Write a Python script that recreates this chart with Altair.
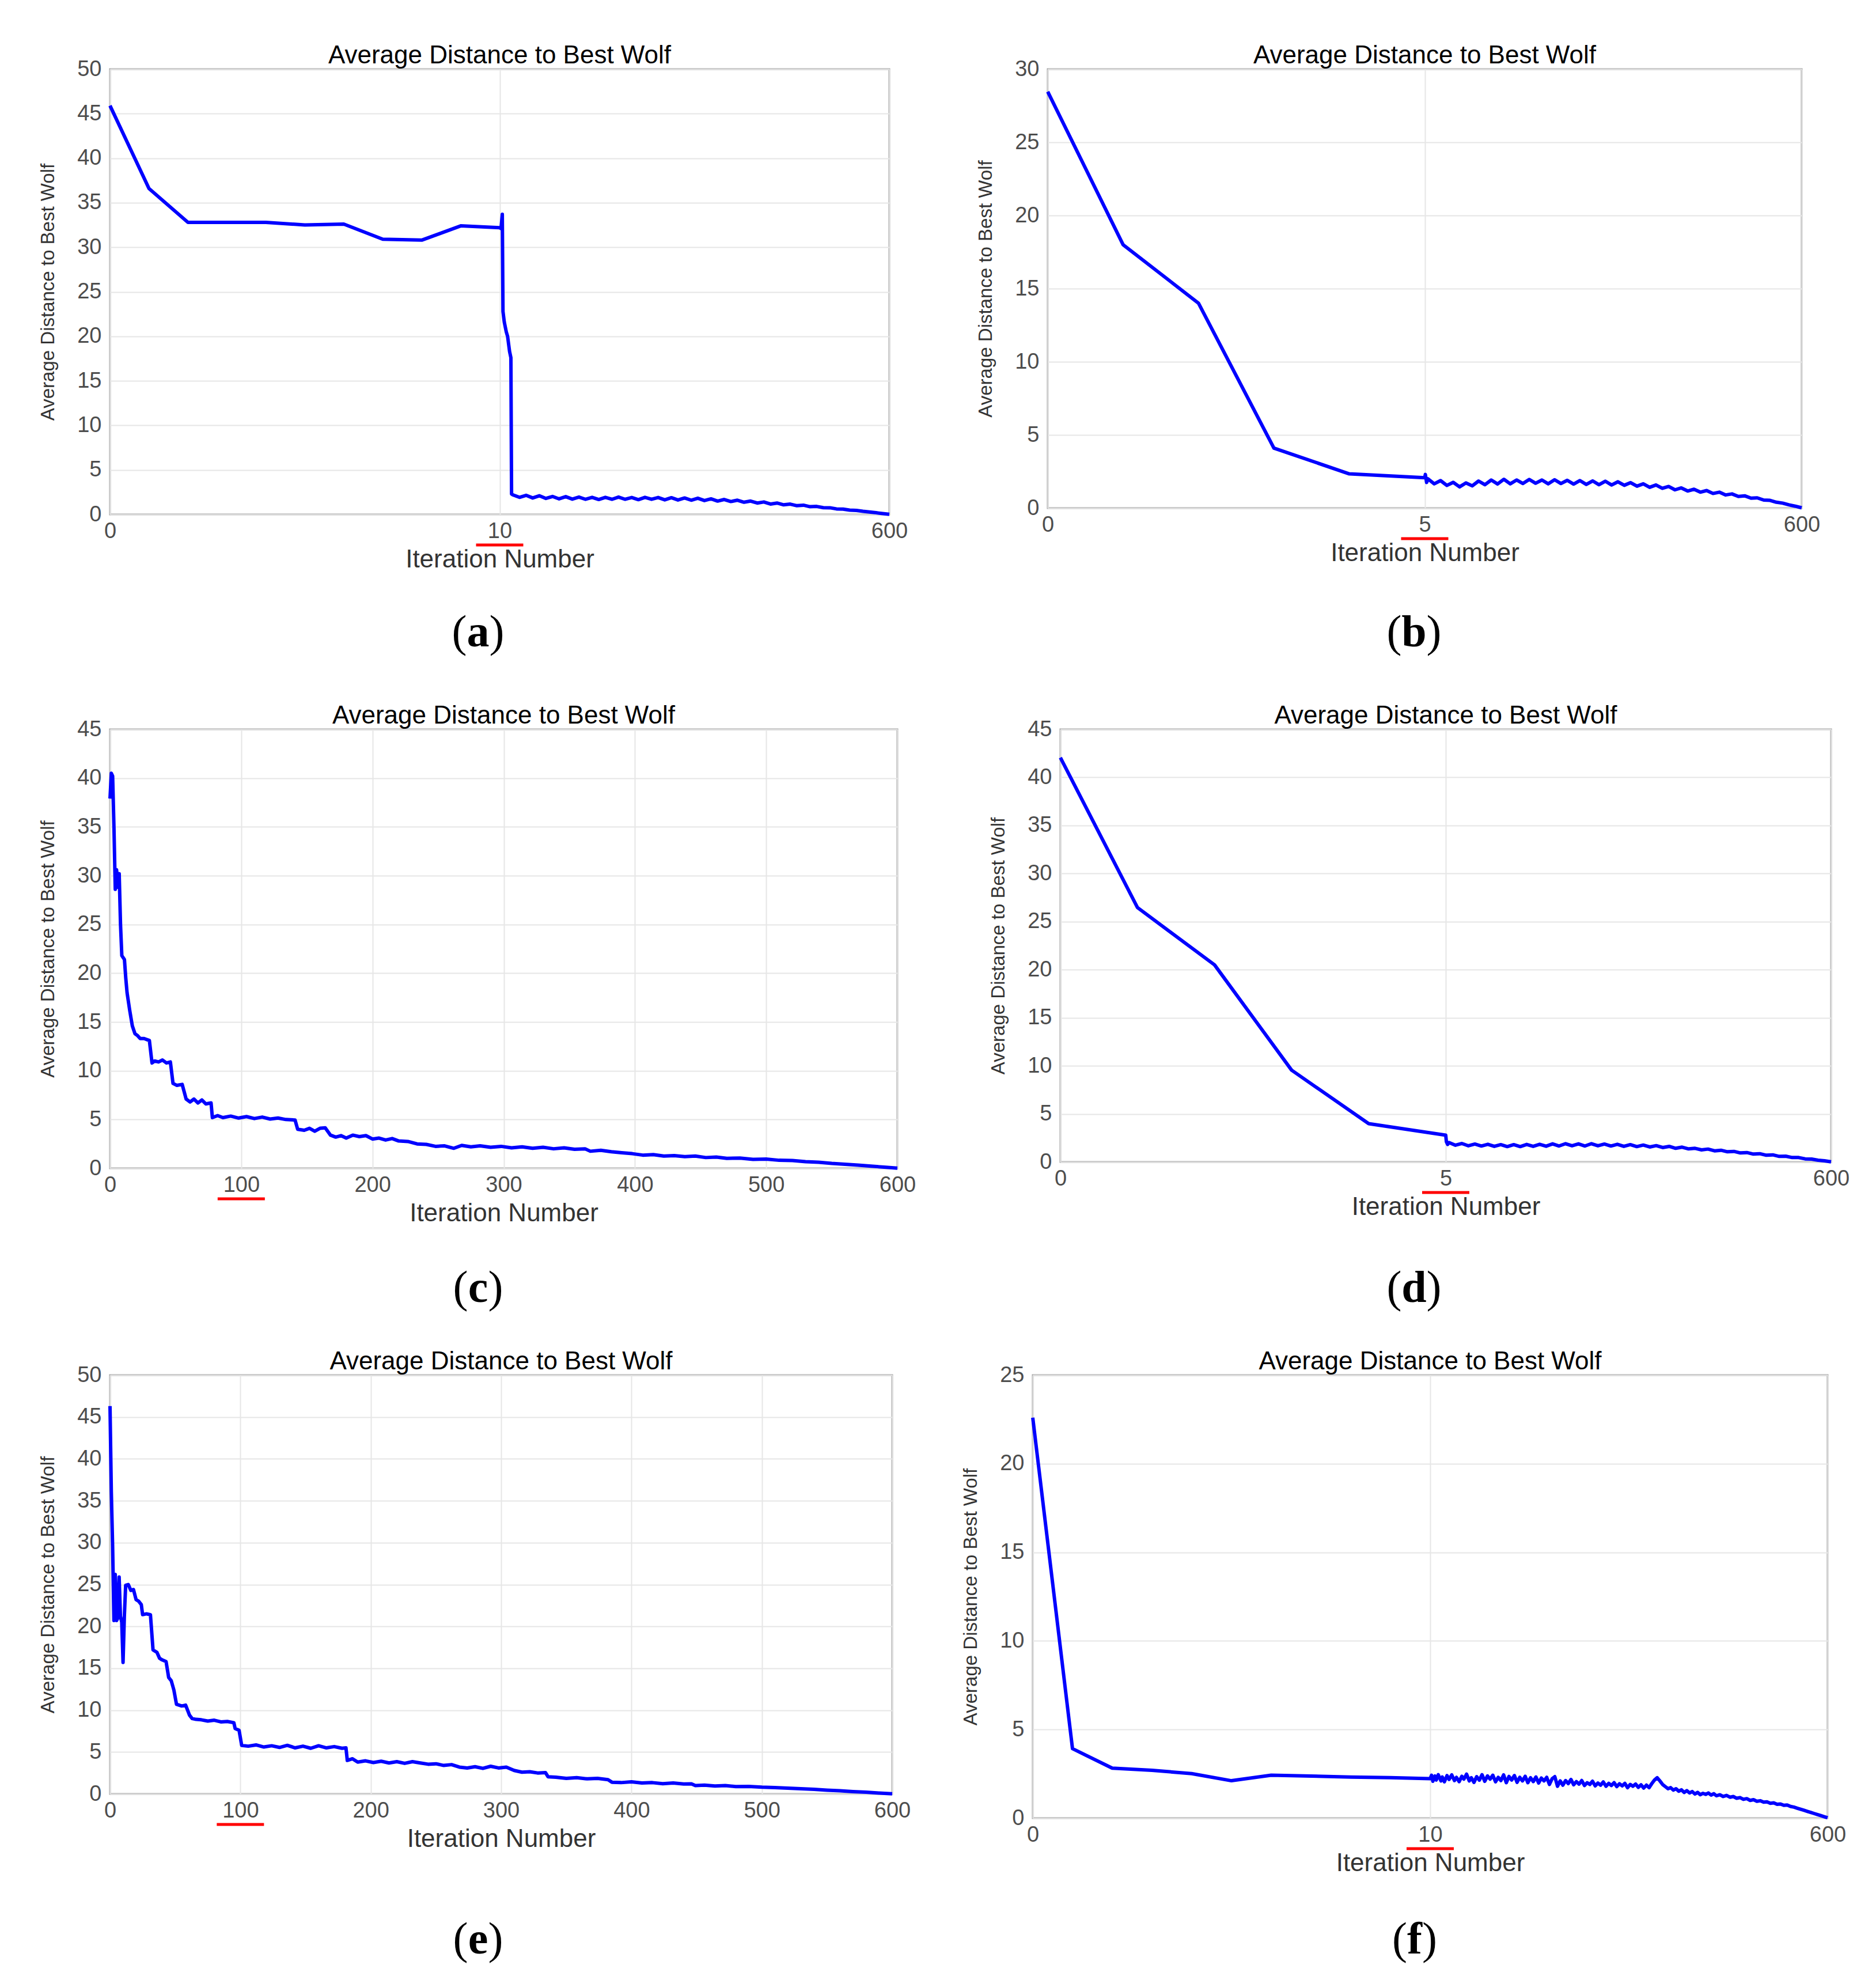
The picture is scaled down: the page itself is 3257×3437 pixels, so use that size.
import altair as alt
import pandas as pd

TITLE = "Average Distance to Best Wolf"
XTITLE = "Iteration Number"

# ---------------- panel (a) ----------------
a_it = [0, 1, 2, 3, 4, 5, 6, 7, 8, 9, 10, 12, 14, 15, 17, 20, 22, 25, 27, 28,
        30, 40, 50, 60, 70, 80, 90, 100, 110, 120, 130, 140, 150, 160, 170, 180, 190,
        200, 210, 220, 230, 240, 250, 260, 270, 280, 290, 300, 310, 320, 330, 340,
        350, 360, 370, 380, 390, 400, 410, 420, 430, 440, 450, 460, 470, 480, 490,
        500, 510, 520, 530, 540, 550, 560, 570, 580, 590, 600]
a_val = [45.9, 36.6, 32.8, 32.8, 32.8, 32.5, 32.6, 30.9, 30.8, 32.4, 32.2, 32.1, 33.7, 22.8, 21.6, 20.5, 20.0, 18.3, 17.6, 2.3,
         2.2, 1.92, 2.15, 1.85, 2.1, 1.8, 2.02, 1.75, 2.0, 1.72, 1.95, 1.7, 1.92, 1.68, 1.92, 1.7, 1.95,
         1.7, 1.9, 1.66, 1.92, 1.7, 1.9, 1.64, 1.88, 1.62, 1.85, 1.6, 1.82, 1.56, 1.75, 1.5,
         1.68, 1.45, 1.6, 1.37, 1.5, 1.28, 1.4, 1.17, 1.28, 1.08, 1.16, 0.98, 1.04, 0.87, 0.9,
         0.76, 0.75, 0.62, 0.6, 0.49, 0.45, 0.35, 0.28, 0.19, 0.1, 0.02]

# ---------------- panel (b) ----------------
b_it = [0, 1, 2, 3, 4, 5, 6, 8, 10, 20, 30, 40, 50, 60, 70, 80, 90, 100, 110, 120, 130, 140,
        150, 160, 170, 180, 190, 200, 210, 220, 230, 240, 250, 260, 270, 280, 290, 300,
        310, 320, 330, 340, 350, 360, 370, 380, 390, 400, 410, 420, 430, 440, 450, 460,
        470, 480, 490, 500, 510, 520, 530, 540, 550, 560, 570, 580, 590, 600]
b_val = [28.46, 18.0, 14.0, 4.1, 2.34, 2.08, 2.3, 1.75, 2.0, 1.66, 1.88, 1.55, 1.76, 1.45, 1.72, 1.52, 1.85, 1.6, 1.92, 1.65, 1.97, 1.66,
         1.92, 1.68, 1.96, 1.7, 1.92, 1.66, 1.94, 1.68, 1.9, 1.64, 1.88, 1.62, 1.86, 1.6, 1.84, 1.58,
         1.8, 1.56, 1.74, 1.5, 1.66, 1.42, 1.58, 1.35, 1.48, 1.25, 1.38, 1.17, 1.29, 1.09, 1.2, 1.0,
         1.09, 0.9, 0.97, 0.8, 0.84, 0.68, 0.7, 0.55, 0.53, 0.4, 0.34, 0.22, 0.13, 0.02]

# ---------------- panel (c) ----------------
c_it = [0, 1, 2, 3, 4, 5, 6, 7, 8, 9, 11, 12, 13, 15, 17, 19, 21, 23, 26, 30, 32, 34, 37, 40, 43, 46,
        48, 51, 55, 58, 61, 64, 67, 70, 73, 77, 78, 82, 86, 92, 98, 104, 110, 116, 122, 128, 134,
        141, 143, 148, 152, 156, 160, 164, 168, 172, 176, 180, 185, 190, 195, 200, 205, 210, 215,
        220, 227, 234, 241, 248, 255, 262, 268, 275, 282, 290, 298, 306, 314, 322, 330, 338, 346,
        354, 362, 366, 374, 382, 390, 398, 406, 414, 422, 430, 438, 446, 454, 462, 470, 480, 490,
        500, 510, 520, 530, 540, 550, 560, 570, 580, 590, 600]
c_val = [37.9, 40.5, 40.2, 35.0, 28.6, 30.6, 28.8, 30.2, 25.0, 21.8, 21.4, 19.5, 18.0, 16.2, 14.6, 13.8, 13.6, 13.3, 13.3, 13.1, 10.8, 11.0, 10.9, 11.1, 10.8, 10.9,
         8.7, 8.5, 8.6, 7.1, 6.8, 7.1, 6.7, 7.0, 6.6, 6.7, 5.2, 5.4, 5.2, 5.35, 5.15, 5.3, 5.1, 5.25, 5.05, 5.15, 5.0,
         4.95, 4.0, 3.9, 4.1, 3.8, 4.1, 4.15, 3.4, 3.2, 3.35, 3.1, 3.4, 3.25, 3.35, 3.0, 3.1, 2.9, 3.05,
         2.8, 2.75, 2.5, 2.45, 2.25, 2.3, 2.05, 2.35, 2.2, 2.3, 2.15, 2.25, 2.1, 2.2, 2.05, 2.15, 2.0, 2.1,
         1.95, 2.0, 1.75, 1.85, 1.7, 1.6, 1.5, 1.35, 1.4, 1.25, 1.3, 1.2, 1.25, 1.1, 1.15, 1.02, 1.05, 0.92,
         0.95, 0.82, 0.8, 0.68, 0.62, 0.5, 0.42, 0.32, 0.22, 0.12, 0.02]

# ---------------- panel (d) ----------------
d_it = [0, 1, 2, 3, 4, 5, 6, 8, 10, 20, 30, 40, 50, 60, 70, 80, 90, 100, 110, 120, 130, 140,
        150, 160, 170, 180, 190, 200, 210, 220, 230, 240, 250, 260, 270, 280, 290, 300,
        310, 320, 330, 340, 350, 360, 370, 380, 390, 400, 410, 420, 430, 440, 450, 460,
        470, 480, 490, 500, 510, 520, 530, 540, 550, 560, 570, 580, 590, 600]
d_val = [42.06, 26.46, 20.5, 9.55, 3.98, 2.79, 2.1, 1.82, 2.02, 1.74, 1.92, 1.68, 1.86, 1.66, 1.84, 1.62, 1.8, 1.6, 1.8, 1.6, 1.82, 1.62,
         1.84, 1.64, 1.88, 1.66, 1.9, 1.68, 1.88, 1.66, 1.9, 1.68, 1.86, 1.66, 1.84, 1.62, 1.8, 1.6,
         1.76, 1.56, 1.7, 1.5, 1.62, 1.42, 1.54, 1.36, 1.42, 1.26, 1.34, 1.16, 1.22, 1.06, 1.1, 0.94,
         0.98, 0.82, 0.86, 0.7, 0.74, 0.58, 0.6, 0.46, 0.46, 0.32, 0.3, 0.18, 0.12, 0.02]

# ---------------- panel (e) ----------------
e_it = [0, 1, 2, 3, 4, 5, 6, 7, 8, 9, 10, 11, 12, 14, 16, 18, 20, 22, 24, 25, 28, 31, 33, 36, 38, 40,
        43, 45, 47, 49, 51, 55, 58, 61, 63, 66, 70, 75, 80, 85, 90, 95, 96, 99, 101, 106, 112, 118,
        124, 130, 136, 142, 148, 154, 160, 166, 172, 178, 181, 182, 186, 190, 196, 202, 208, 214,
        220, 226, 232, 238, 244, 250, 256, 262, 268, 274, 280, 286, 292, 298, 304, 310, 316, 322,
        328, 334, 336, 342, 350, 358, 366, 374, 382, 385, 392, 400, 408, 416, 424, 432, 440, 446,
        449, 456, 464, 472, 480, 490, 500, 510, 520, 530, 540, 550, 560, 570, 580, 590, 600]
e_val = [46.3, 36.1, 29.6, 20.7, 26.2, 20.7, 21.0, 25.9, 21.2, 20.5, 15.7, 21.2, 24.9, 25.0, 24.3, 24.4, 23.2, 23.0, 22.6, 21.4, 21.5, 21.4, 17.2, 16.9, 16.2, 16.0,
         15.8, 13.9, 13.5, 12.4, 10.7, 10.5, 10.6, 9.4, 9.0, 8.9, 8.85, 8.7, 8.8, 8.6, 8.65, 8.5, 7.8, 7.6, 5.8, 5.7, 5.85, 5.6,
         5.75, 5.55, 5.8, 5.5, 5.7, 5.45, 5.75, 5.5, 5.65, 5.45, 5.5, 4.0, 4.2, 3.8, 3.95, 3.75, 3.9, 3.7,
         3.85, 3.65, 3.85, 3.7, 3.55, 3.6, 3.4, 3.5, 3.2, 3.1, 3.25, 3.05, 3.3, 3.1, 3.2, 2.8, 2.6, 2.65,
         2.5, 2.55, 2.05, 2.0, 1.85, 1.95, 1.8, 1.85, 1.7, 1.4, 1.35, 1.45, 1.3, 1.35, 1.22, 1.3, 1.18, 1.2,
         1.0, 1.05, 0.95, 1.0, 0.88, 0.9, 0.8, 0.76, 0.68, 0.62, 0.55, 0.45, 0.38, 0.28, 0.2, 0.1, 0.02]

# ---------------- panel (f) ----------------
f_it = [0, 1, 2, 3, 4, 5, 6, 7, 8, 9, 10, 12, 14, 17, 19, 22, 26, 28, 31, 35, 38, 42, 46, 49, 53,
        57, 60, 64, 68, 71, 75, 79, 83, 87, 91, 95, 99, 103, 107, 111, 115, 119, 123, 127, 131,
        135, 139, 143, 147, 151, 155, 159, 163, 167, 171, 175, 179, 183, 187, 191, 195, 199,
        203, 207, 211, 215, 219, 223, 227, 231, 235, 239, 243, 247, 251, 255, 259, 263, 267,
        271, 275, 279, 283, 287, 291, 295, 299, 303, 307, 311, 315, 319, 323, 327, 331, 335,
        339, 343, 347, 351, 355, 359, 363, 367, 371, 375, 379, 383, 387, 391, 395, 399, 403,
        407, 411, 415, 419, 423, 427, 431, 435, 440, 445, 450, 455, 460, 465, 470, 475, 480,
        485, 490, 495, 500, 505, 510, 515, 520, 525, 530, 535, 540, 545, 550, 555, 560, 565,
        570, 575, 580, 585, 590, 595, 600]
f_val = [22.6, 3.92, 2.82, 2.7, 2.51, 2.11, 2.42, 2.37, 2.32, 2.28, 2.23, 2.42, 2.08, 2.38, 2.15, 2.45, 2.1, 2.32, 2.05, 2.4, 2.18, 2.44, 2.12, 2.3, 2.06,
         2.36, 2.2, 2.48, 2.1, 2.28, 2.02, 2.34, 2.14, 2.45, 2.08, 2.38, 2.2, 2.42, 2.05, 2.3, 2.12, 2.44, 2.0, 2.35, 2.15,
         2.4, 2.02, 2.3, 2.1, 2.36, 2.0, 2.28, 2.06, 2.32, 1.98, 2.26, 2.1, 2.3, 1.9, 2.22, 2.34, 1.8,
         2.1, 1.86, 2.12, 1.95, 2.18, 1.88, 2.06, 1.92, 2.12, 1.84, 2.0, 1.9, 2.08, 1.82, 1.98, 1.86, 2.04,
         1.8, 1.96, 1.84, 2.0, 1.78, 1.94, 1.82, 1.96, 1.72, 1.9, 1.8, 1.92, 1.74, 1.88, 1.7, 1.86, 1.72,
         1.95, 2.15, 2.28, 2.1, 1.9, 1.78, 1.66, 1.72, 1.58, 1.66, 1.52, 1.6, 1.45, 1.55, 1.42, 1.5, 1.36,
         1.45, 1.32, 1.4, 1.34, 1.42, 1.3, 1.38, 1.26, 1.32, 1.22, 1.28, 1.18, 1.22, 1.12, 1.16, 1.06, 1.1,
         1.0, 1.04, 0.95, 0.98, 0.9, 0.92, 0.84, 0.86, 0.78, 0.8, 0.72, 0.74, 0.66, 0.62, 0.56, 0.5, 0.44,
         0.38, 0.32, 0.26, 0.2, 0.14, 0.08, 0.02]

SANS = "Liberation Sans"
SERIF = "Liberation Serif"
LETTER_W = {"a": 39, "b": 43, "c": 35, "d": 43, "e": 35, "f": 26}


def panel(it, val, ymax, brk, w, h, ul_at, letter, lab_x, lab_y):
    df = pd.DataFrame({"x": it, "y": val})
    if brk is not None:
        xs = alt.Scale(domain=[0, brk, 600], range=[0, w / 2, w], nice=False, zero=False)
        xvals = [0, brk, 600]
    else:
        xs = alt.Scale(domain=[0, 600], nice=False, zero=False)
        xvals = list(range(0, 601, 100))
    ys = alt.Scale(domain=[0, ymax], nice=False, zero=True)
    xax = alt.Axis(values=xvals, title=XTITLE, format="d", labelFlush=False)
    yax = alt.Axis(values=list(range(0, ymax + 1, 5)), title=TITLE, format="d")

    line = alt.Chart(df).mark_line(color="#0000ff", strokeWidth=6, strokeJoin="round").encode(
        x=alt.X("x:Q", scale=xs, axis=xax),
        y=alt.Y("y:Q", scale=ys, axis=yax),
    )
    ul = alt.Chart(pd.DataFrame({"x": [ul_at]})).mark_rule(
        color="#ff0000", strokeWidth=5, xOffset=-41, x2Offset=41
    ).encode(x=alt.X("x:Q", scale=xs, axis=xax), x2=alt.X2("x"), y=alt.value(h + 53))

    lw = LETTER_W[letter]
    lab_df = pd.DataFrame({"l": ["("], "m": [letter], "r": [")"]})
    base = alt.Chart(lab_df)
    lp = base.mark_text(font=SERIF, fontSize=78, baseline="middle", align="right",
                        dx=-lw / 2, color="#000000").encode(text="l:N", x=alt.value(lab_x), y=alt.value(lab_y))
    lm = base.mark_text(font=SERIF, fontSize=78, fontWeight="bold", baseline="middle",
                        align="center", color="#000000").encode(text="m:N", x=alt.value(lab_x), y=alt.value(lab_y))
    rp = base.mark_text(font=SERIF, fontSize=78, baseline="middle", align="left",
                        dx=lw / 2, color="#000000").encode(text="r:N", x=alt.value(lab_x), y=alt.value(lab_y))

    return alt.layer(line, ul, lp, lm, rp).properties(
        width=w, height=h,
        title=alt.Title(TITLE, fontSize=44, font=SANS, fontWeight="normal", color="#000000",
                        offset=-18, anchor="middle"),
    )


pa = panel(a_it, a_val, 50, 10, 1353, 773, 10, "a", 639, 979)
pb = panel(b_it, b_val, 30, 5, 1309, 762, 5, "b", 636, 979)
pc = panel(c_it, c_val, 45, None, 1367, 762, 100, "c", 639, 971)
pd_ = panel(d_it, d_val, 45, 5, 1338, 751, 5, "d", 614, 971)
pe = panel(e_it, e_val, 50, None, 1358, 727, 100, "e", 639, 981)
pf = panel(f_it, f_val, 25, 10, 1380, 769, 10, "f", 663, 981)

row1 = alt.hconcat(pa, pb, spacing=116)
row2 = alt.hconcat(pc, pd_, spacing=124)
row3 = alt.hconcat(pe, pf, spacing=85)

chart = alt.vconcat(alt.vconcat(row1, row2, spacing=79), row3, spacing=62).properties(
    padding={"left": 58, "top": 65, "right": 10, "bottom": 10},
    background="white",
).configure_view(
    stroke="#a3a3a3", strokeWidth=3
).configure_axis(
    grid=True, gridColor="#e6e6e6", gridWidth=2, domain=False, ticks=False, tickSize=0,
    labelFont=SANS, labelFontSize=38, labelColor="#4d4d4d",
    titleFont=SANS, titleFontWeight="normal", titleColor="#333333",
).configure_axisX(
    labelPadding=10, titlePadding=8, titleFontSize=44
).configure_axisY(
    labelPadding=15, titlePadding=33, titleFontSize=33
)

chart.save("out.html", embed_options={"renderer": "svg", "actions": False})
